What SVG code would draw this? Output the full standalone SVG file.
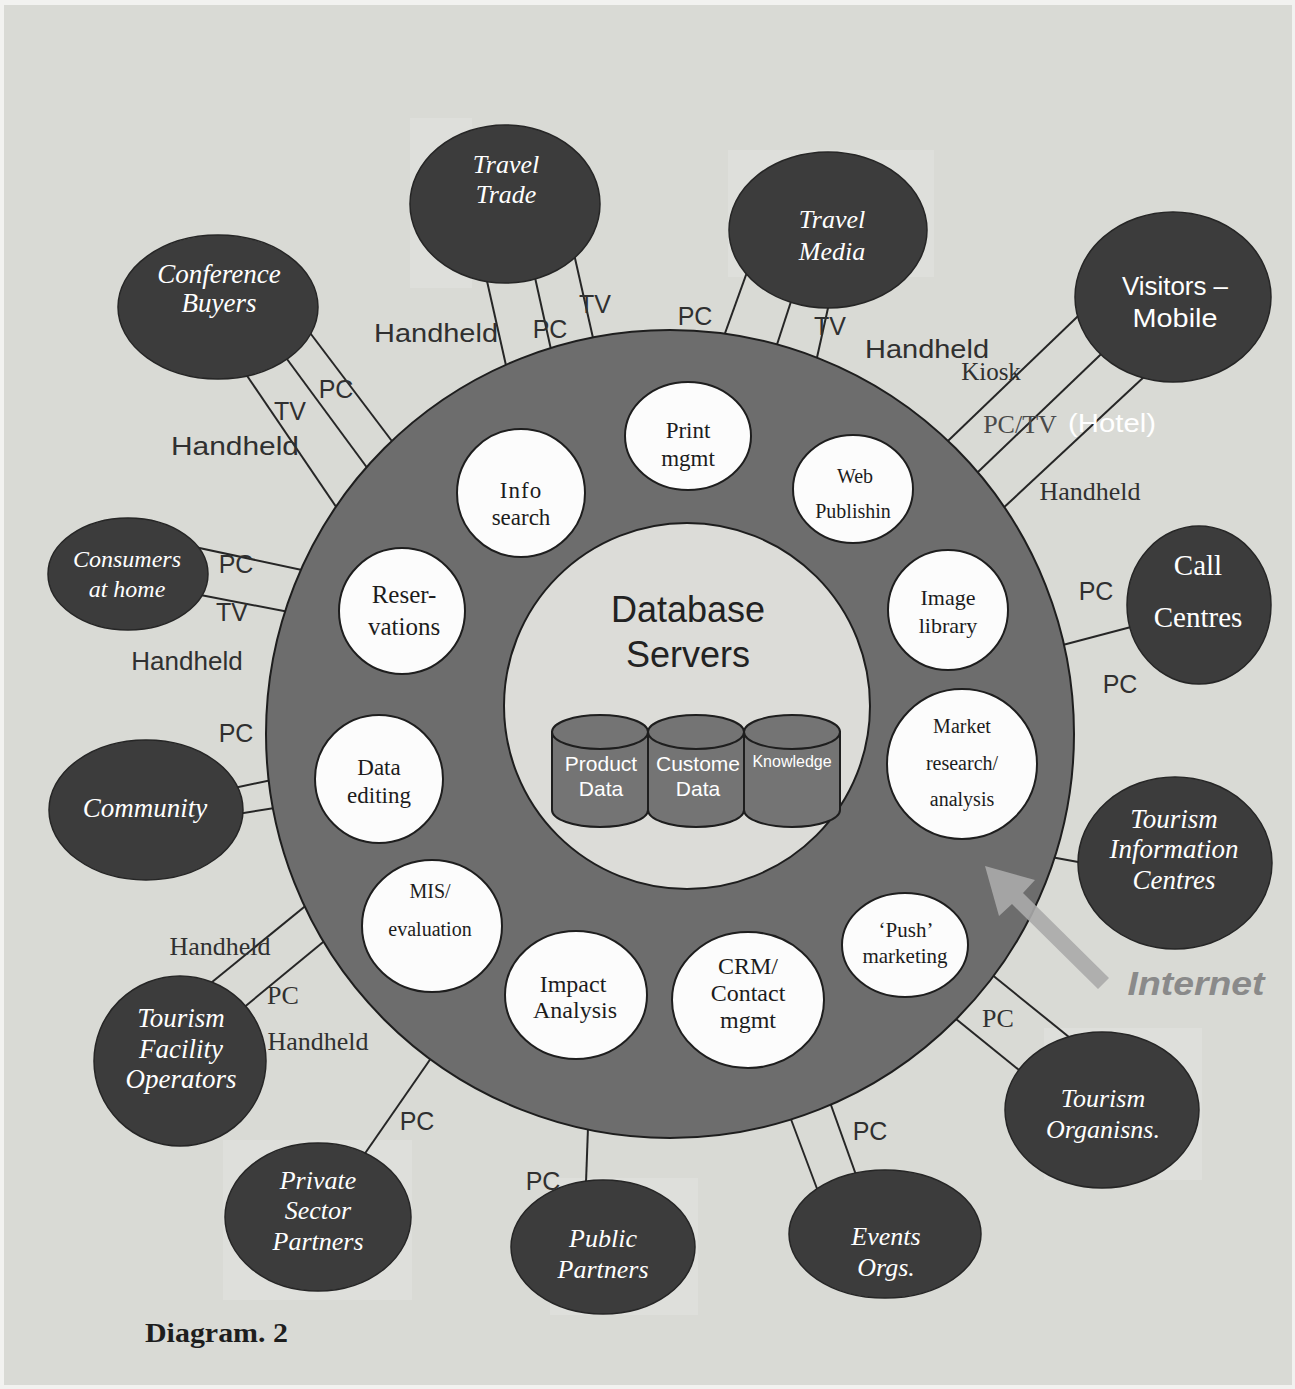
<svg xmlns="http://www.w3.org/2000/svg" width="1295" height="1389" viewBox="0 0 1295 1389">
<style>
.conn{stroke:#262626;stroke-width:2;fill:none}
.outer{fill:#3c3c3c;stroke:#262626;stroke-width:1.5}
.nt{font-family:"Liberation Serif",serif;font-style:italic;fill:#ffffff;text-anchor:middle}
.fn{fill:#fcfcfc;stroke:#1e1e1e;stroke-width:2}
.ft{font-family:"Liberation Serif",serif;fill:#1c1c1c;text-anchor:middle}
.ls{font-family:"Liberation Sans",sans-serif;fill:#303030;text-anchor:middle}
.lr{font-family:"Liberation Serif",serif;fill:#303030;text-anchor:middle}
.cyl{fill:#747474;stroke:#1e1e1e;stroke-width:2}
.ct{font-family:"Liberation Sans",sans-serif;fill:#ffffff;text-anchor:middle}
.art{fill:#dedfdb}
</style>
<rect x="0" y="0" width="1295" height="1389" fill="#f2f2f0"/>
<rect x="4" y="5" width="1288" height="1380" fill="#d9dad5"/>
<g id="artifacts">
<rect class="art" x="410" y="118" width="62" height="170"/>
<rect class="art" x="728" y="150" width="206" height="127"/>
<rect class="art" x="223" y="1140" width="189" height="160"/>
<rect class="art" x="550" y="1178" width="148" height="137"/>
<rect class="art" x="1044" y="1028" width="158" height="152"/>
</g>
<g id="connectors">
<line class="conn" x1="235" y1="358" x2="360" y2="542"/>
<line class="conn" x1="270" y1="336" x2="385" y2="492"/>
<line class="conn" x1="295" y1="313" x2="410" y2="465"/>
<line class="conn" x1="480" y1="250" x2="512" y2="392"/>
<line class="conn" x1="530" y1="255" x2="556" y2="372"/>
<line class="conn" x1="572" y1="245" x2="598" y2="360"/>
<line class="conn" x1="755" y1="250" x2="715" y2="361"/>
<line class="conn" x1="798" y1="280" x2="770" y2="366"/>
<line class="conn" x1="832" y1="290" x2="812" y2="380"/>
<line class="conn" x1="1100" y1="295" x2="925" y2="463"/>
<line class="conn" x1="1120" y1="336" x2="955" y2="494"/>
<line class="conn" x1="1160" y1="362" x2="985" y2="525"/>
<line class="conn" x1="1150" y1="622" x2="1040" y2="651"/>
<line class="conn" x1="1040" y1="855" x2="1100" y2="866"/>
<line class="conn" x1="935" y1="1002" x2="1040" y2="1087"/>
<line class="conn" x1="975" y1="961" x2="1085" y2="1050"/>
<line class="conn" x1="780" y1="1090" x2="825" y2="1210"/>
<line class="conn" x1="822" y1="1080" x2="865" y2="1200"/>
<line class="conn" x1="589" y1="1100" x2="585" y2="1210"/>
<line class="conn" x1="445" y1="1038" x2="350" y2="1175"/>
<line class="conn" x1="325" y1="890" x2="190" y2="1000"/>
<line class="conn" x1="345" y1="924" x2="225" y2="1023"/>
<line class="conn" x1="220" y1="791" x2="300" y2="774"/>
<line class="conn" x1="225" y1="816" x2="300" y2="804"/>
<line class="conn" x1="190" y1="546" x2="330" y2="576"/>
<line class="conn" x1="185" y1="592" x2="320" y2="618"/>
</g>
<g id="ring">
<circle cx="670" cy="734" r="404" fill="#6d6d6d" stroke="#1e1e1e" stroke-width="2"/>
</g>
<g id="database-servers">
<circle cx="687" cy="706" r="183" fill="#dcdcd8" stroke="#1e1e1e" stroke-width="2"/>
<text x="688" y="622" font-family="Liberation Sans, sans-serif" font-size="36" fill="#222" text-anchor="middle">Database</text>
<text x="688" y="667" font-family="Liberation Sans, sans-serif" font-size="36" fill="#222" text-anchor="middle">Servers</text>
</g>
<g id="product-data">
<path class="cyl" d="M552,732 L552,810 A48,17 0 0 0 648,810 L648,732 Z"/>
<ellipse class="cyl" cx="600" cy="732" rx="48" ry="17"/>
<text class="ct" x="601" y="771" style="font-size:21px">Product</text>
<text class="ct" x="601" y="796" style="font-size:21px">Data</text>
</g>
<g id="customer-data">
<path class="cyl" d="M648,732 L648,810 A48,17 0 0 0 744,810 L744,732 Z"/>
<ellipse class="cyl" cx="696" cy="732" rx="48" ry="17"/>
<text class="ct" x="698" y="771" style="font-size:21px">Custome</text>
<text class="ct" x="698" y="796" style="font-size:21px">Data</text>
</g>
<g id="knowledge">
<path class="cyl" d="M744,732 L744,810 A48,17 0 0 0 840,810 L840,732 Z"/>
<ellipse class="cyl" cx="792" cy="732" rx="48" ry="17"/>
<text class="ct" x="792" y="767" style="font-size:16px">Knowledge</text>
</g>
<g id="print-mgmt">
<ellipse class="fn" cx="688" cy="436" rx="63" ry="54"/>
<text class="ft" x="688" y="438" style="font-size:23px">Print</text>
<text class="ft" x="688" y="466" style="font-size:23px">mgmt</text>
</g>
<g id="web-publishing">
<ellipse class="fn" cx="853" cy="489" rx="60" ry="54"/>
<text class="ft" x="855" y="483" style="font-size:20px">Web</text>
<text class="ft" x="853" y="518" style="font-size:20px">Publishin</text>
</g>
<g id="info-search">
<circle class="fn" cx="521" cy="493" r="64"/>
<text class="ft" x="521" y="498" style="font-size:23px;letter-spacing:1px">Info</text>
<text class="ft" x="521" y="525" style="font-size:23px">search</text>
</g>
<g id="reservations">
<circle class="fn" cx="402" cy="611" r="63"/>
<text class="ft" x="404" y="603" style="font-size:25px">Reser-</text>
<text class="ft" x="404" y="635" style="font-size:25px">vations</text>
</g>
<g id="image-library">
<circle class="fn" cx="948" cy="610" r="60"/>
<text class="ft" x="948" y="605" style="font-size:22px">Image</text>
<text class="ft" x="948" y="633" style="font-size:22px">library</text>
</g>
<g id="market-research">
<circle class="fn" cx="962" cy="764" r="75"/>
<text class="ft" x="962" y="733" style="font-size:20px">Market</text>
<text class="ft" x="962" y="770" style="font-size:20px">research/</text>
<text class="ft" x="962" y="806" style="font-size:20px">analysis</text>
</g>
<g id="data-editing">
<circle class="fn" cx="379" cy="779" r="64"/>
<text class="ft" x="379" y="775" style="font-size:23px">Data</text>
<text class="ft" x="379" y="803" style="font-size:23px">editing</text>
</g>
<g id="mis-evaluation">
<ellipse class="fn" cx="432" cy="926" rx="70" ry="66"/>
<text class="ft" x="430" y="898" style="font-size:20px">MIS/</text>
<text class="ft" x="430" y="936" style="font-size:20px">evaluation</text>
</g>
<g id="impact-analysis">
<ellipse class="fn" cx="576" cy="995" rx="71" ry="64"/>
<text class="ft" x="573" y="992" style="font-size:24px">Impact</text>
<text class="ft" x="575" y="1018" style="font-size:24px">Analysis</text>
</g>
<g id="crm-contact">
<ellipse class="fn" cx="748" cy="1000" rx="76" ry="68"/>
<text class="ft" x="748" y="974" style="font-size:24px">CRM/</text>
<text class="ft" x="748" y="1001" style="font-size:24px">Contact</text>
<text class="ft" x="748" y="1028" style="font-size:24px">mgmt</text>
</g>
<g id="push-marketing">
<ellipse class="fn" cx="905" cy="945" rx="63" ry="52"/>
<text class="ft" x="906" y="937" style="font-size:21px">‘Push’</text>
<text class="ft" x="905" y="963" style="font-size:21px">marketing</text>
</g>
<g id="travel-trade">
<ellipse class="outer" cx="505" cy="204" rx="95" ry="79"/>
<text class="nt" x="506" y="173" style="font-size:26px">Travel</text>
<text class="nt" x="506" y="203" style="font-size:26px">Trade</text>
</g>
<g id="conference-buyers">
<ellipse class="outer" cx="218" cy="307" rx="100" ry="72"/>
<text class="nt" x="219" y="283" style="font-size:27px">Conference</text>
<text class="nt" x="219" y="312" style="font-size:27px">Buyers</text>
</g>
<g id="travel-media">
<ellipse class="outer" cx="828" cy="230" rx="99" ry="78"/>
<text class="nt" x="832" y="228" style="font-size:26px">Travel</text>
<text class="nt" x="832" y="260" style="font-size:26px">Media</text>
</g>
<g id="visitors-mobile">
<ellipse class="outer" cx="1173" cy="297" rx="98" ry="85"/>
<text x="1175" y="295" font-family="Liberation Sans, sans-serif" font-size="26" fill="#fff" text-anchor="middle" textLength="106" lengthAdjust="spacingAndGlyphs">Visitors –</text>
<text x="1175" y="327" font-family="Liberation Sans, sans-serif" font-size="26" fill="#fff" text-anchor="middle" textLength="85" lengthAdjust="spacingAndGlyphs">Mobile</text>
</g>
<g id="call-centres">
<ellipse class="outer" cx="1199" cy="605" rx="72" ry="79"/>
<text class="nt" x="1198" y="575" style="font-style:normal;font-size:29px">Call</text>
<text class="nt" x="1198" y="627" style="font-style:normal;font-size:29px">Centres</text>
</g>
<g id="tourism-information-centres">
<ellipse class="outer" cx="1175" cy="863" rx="97" ry="86"/>
<text class="nt" x="1174" y="828" style="font-size:27px">Tourism</text>
<text class="nt" x="1174" y="858" style="font-size:27px">Information</text>
<text class="nt" x="1174" y="889" style="font-size:27px">Centres</text>
</g>
<g id="tourism-organisations">
<ellipse class="outer" cx="1102" cy="1110" rx="97" ry="78"/>
<text class="nt" x="1103" y="1107" style="font-size:26px">Tourism</text>
<text class="nt" x="1103" y="1138" style="font-size:26px">Organisns.</text>
</g>
<g id="events-orgs">
<ellipse class="outer" cx="885" cy="1234" rx="96" ry="64"/>
<text class="nt" x="886" y="1245" style="font-size:26px">Events</text>
<text class="nt" x="886" y="1276" style="font-size:26px">Orgs.</text>
</g>
<g id="public-partners">
<ellipse class="outer" cx="603" cy="1247" rx="92" ry="67"/>
<text class="nt" x="603" y="1247" style="font-size:26px">Public</text>
<text class="nt" x="603" y="1278" style="font-size:26px">Partners</text>
</g>
<g id="private-sector-partners">
<ellipse class="outer" cx="318" cy="1217" rx="93" ry="74"/>
<text class="nt" x="318" y="1189" style="font-size:26px">Private</text>
<text class="nt" x="318" y="1219" style="font-size:26px">Sector</text>
<text class="nt" x="318" y="1250" style="font-size:26px">Partners</text>
</g>
<g id="tourism-facility-operators">
<ellipse class="outer" cx="180" cy="1061" rx="86" ry="85"/>
<text class="nt" x="181" y="1027" style="font-size:27px">Tourism</text>
<text class="nt" x="181" y="1058" style="font-size:27px">Facility</text>
<text class="nt" x="181" y="1088" style="font-size:27px">Operators</text>
</g>
<g id="community">
<ellipse class="outer" cx="146" cy="810" rx="97" ry="70"/>
<text class="nt" x="145" y="817" style="font-size:27px">Community</text>
</g>
<g id="consumers-at-home">
<ellipse class="outer" cx="128" cy="574" rx="80" ry="56"/>
<text class="nt" x="127" y="567" style="font-size:24px">Consumers</text>
<text class="nt" x="127" y="597" style="font-size:24px">at home</text>
</g>
<g id="connector-labels">
<text class="ls" x="336" y="398" style="font-size:25px">PC</text>
<text class="ls" x="290" y="420" style="font-size:25px">TV</text>
<text class="ls" x="235" y="455" style="font-size:25px" textLength="128" lengthAdjust="spacingAndGlyphs">Handheld</text>
<text class="ls" x="436" y="342" style="font-size:25px" textLength="124" lengthAdjust="spacingAndGlyphs">Handheld</text>
<text class="ls" x="550" y="338" style="font-size:25px">PC</text>
<text class="ls" x="595" y="313" style="font-size:25px">TV</text>
<text class="ls" x="695" y="325" style="font-size:25px">PC</text>
<text class="ls" x="830" y="335" style="font-size:25px">TV</text>
<text class="ls" x="927" y="358" style="font-size:25px" textLength="124" lengthAdjust="spacingAndGlyphs">Handheld</text>
<text class="lr" x="991" y="380" style="font-size:25px">Kiosk</text>
<text class="lr" x="1020" y="433" style="font-size:26px;fill:#4a4a4a">PC/TV</text>
<text x="1112" y="432" font-family="Liberation Sans, sans-serif" font-size="26" fill="#ffffff" text-anchor="middle" textLength="88" lengthAdjust="spacingAndGlyphs">(Hotel)</text>
<text class="lr" x="1090" y="500" style="font-size:26px">Handheld</text>
<text class="ls" x="1096" y="600" style="font-size:25px">PC</text>
<text class="ls" x="1120" y="693" style="font-size:25px">PC</text>
<text class="ls" x="236" y="573" style="font-size:25px">PC</text>
<text class="ls" x="232" y="621" style="font-size:25px">TV</text>
<text class="ls" x="187" y="670" style="font-size:26px">Handheld</text>
<text class="ls" x="236" y="742" style="font-size:25px">PC</text>
<text class="lr" x="220" y="955" style="font-size:26px">Handheld</text>
<text class="lr" x="283" y="1004" style="font-size:26px">PC</text>
<text class="lr" x="318" y="1050" style="font-size:26px">Handheld</text>
<text class="ls" x="417" y="1130" style="font-size:25px">PC</text>
<text class="ls" x="543" y="1190" style="font-size:25px">PC</text>
<text class="ls" x="870" y="1140" style="font-size:25px">PC</text>
<text class="lr" x="998" y="1027" style="font-size:26px">PC</text>
</g>
<g id="internet">
<polygon points="985,866 1035,880 1023,893 1109,978 1098,989 1012,904 999,916" fill="#aaaaaa" fill-opacity="0.9"/>
<text x="1196" y="995" font-family="Liberation Sans, sans-serif" font-size="34" font-style="italic" font-weight="bold" fill="#8a8a8a" text-anchor="middle" textLength="137" lengthAdjust="spacingAndGlyphs">Internet</text>
</g>
<text x="145" y="1342" font-family="Liberation Serif, serif" font-size="27" font-weight="bold" fill="#1e1e1e" textLength="143" lengthAdjust="spacingAndGlyphs">Diagram. 2</text>
</svg>
